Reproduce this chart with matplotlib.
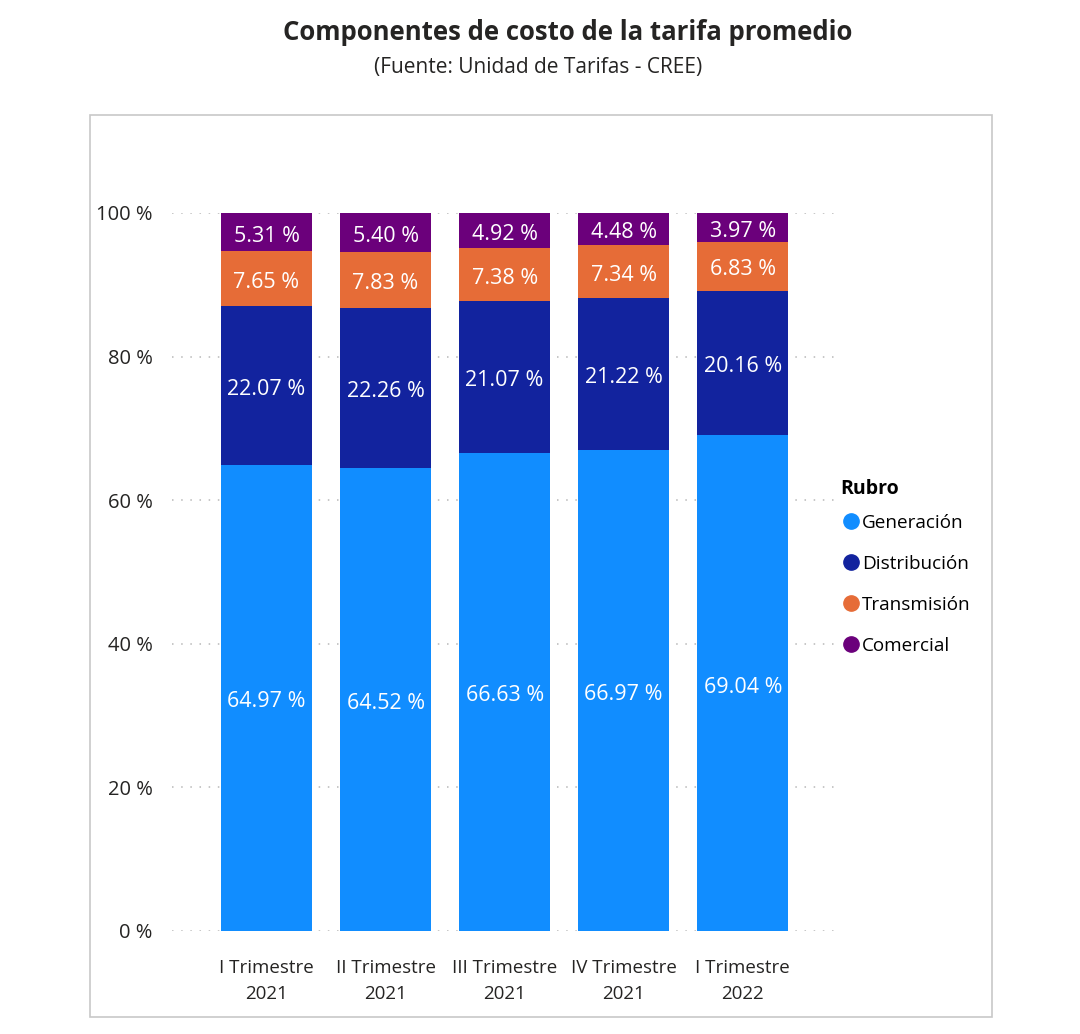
import matplotlib.pyplot as plt
import numpy as np
from matplotlib.patches import Rectangle
from matplotlib.lines import Line2D

plt.rcParams['font.family'] = ['Open Sans', 'DejaVu Sans']

# data
periodos = ['I Trimestre\n2021', 'II Trimestre\n2021', 'III Trimestre\n2021',
            'IV Trimestre\n2021', 'I Trimestre\n2022']
rubros = ['Generación', 'Distribución', 'Transmisión', 'Comercial']
generacion = [64.97, 64.52, 66.63, 66.97, 69.04]
distribucion = [22.07, 22.26, 21.07, 21.22, 20.16]
transmision = [7.65, 7.83, 7.38, 7.34, 6.83]
comercial = [5.31, 5.40, 4.92, 4.48, 3.97]
colores = ['#118DFF', '#12239E', '#E66C37', '#6B007B']

W, H = 1080, 1034
fig = plt.figure(figsize=(W / 100, H / 100), dpi=100)

# panel border
fig.add_artist(Rectangle((90 / W, 1 - 1017 / H), (992 - 90) / W, (1017 - 115) / H,
                         transform=fig.transFigure, fill=False,
                         edgecolor='#c8c8c8', lw=1.2))

ax = fig.add_axes([172 / W, 1 - 931 / H, (838 - 172) / W, (931 - 213) / H])

x = np.arange(len(periodos))
bottom = np.zeros(len(periodos))
for serie, color in zip([generacion, distribucion, transmision, comercial], colores):
    vals = np.array(serie)
    ax.bar(x, vals, bottom=bottom, width=0.765, color=color, zorder=3)
    for xi, b, v in zip(x, bottom, vals):
        ax.text(xi, b + v / 2 - 0.55, f'{v:.2f} %', ha='center', va='center',
                color='white', fontsize=15.5, zorder=4)
    bottom += vals

ax.set_xlim(-0.794, 4.80)
ax.set_ylim(0, 100)
ax.set_yticks([0, 20, 40, 60, 80, 100])
ax.set_yticklabels([f'{v} %' for v in [0, 20, 40, 60, 80, 100]])
ax.set_xticks(x)
ax.set_xticklabels(periodos, fontsize=13.5, color='#252423', linespacing=1.6)
ax.tick_params(axis='y', labelsize=14.5, labelcolor='#252423', length=0, pad=14)
ax.tick_params(axis='x', length=0, pad=20)
ax.grid(axis='y', color='#b8b8b8', linestyle=(0, (1, 5)), lw=1.1, zorder=0)
for s in ax.spines.values():
    s.set_visible(False)

fig.text(568 / W, 1 - 33 / H, 'Componentes de costo de la tarifa promedio',
         ha='center', va='center', fontsize=18.5, fontweight='bold', color='#252423')
fig.text(538 / W, 1 - 67 / H, '(Fuente: Unidad de Tarifas - CREE)',
         ha='center', va='center', fontsize=15, color='#252423')

# legend
fig.text(840 / W, 1 - 489 / H, 'Rubro', ha='left', va='center',
         fontsize=14, fontweight='bold', color='black')
handles = [Line2D([], [], marker='o', ls='', markersize=11, color=c) for c in colores]
leg = fig.legend(handles, rubros, loc='upper left', bbox_to_anchor=(832 / W, 1 - 506 / H),
                 frameon=False, fontsize=13.6, handletextpad=0.0,
                 labelspacing=1.22, handlelength=1.2, borderaxespad=0)

fig.savefig('out.png', dpi=100)
